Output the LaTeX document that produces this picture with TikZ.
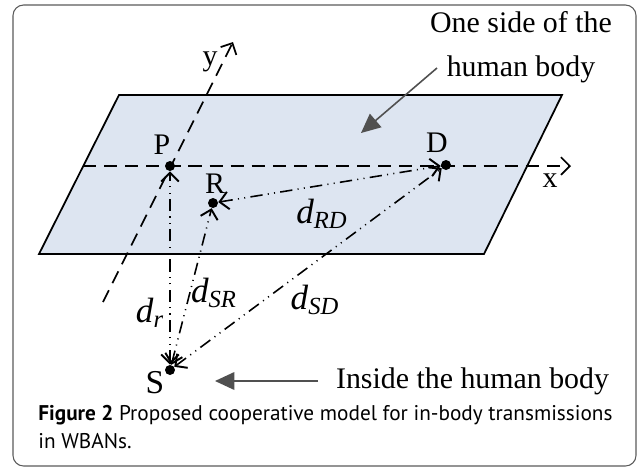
\documentclass[tikz,border=0pt]{standalone}
\usepackage{fontspec}
\setmainfont{Liberation Serif}
\newfontfamily\capfont{PT Sans}
\usetikzlibrary{arrows.meta,positioning}
\definecolor{bodyfill}{RGB}{221,229,241}
\definecolor{framegray}{RGB}{90,90,90}
\definecolor{pointergray}{RGB}{80,80,80}
\begin{document}
\begin{tikzpicture}[x=0.02cm,y=-0.02cm,
  dot/.style={circle,fill=black,inner sep=0pt,minimum size=0.2cm},
  lbl/.style={font=\fontsize{17}{25}\selectfont,inner sep=1pt},
  dlbl/.style={font=\fontsize{20}{20}\selectfont\itshape,inner sep=0pt},
  axis/.style={line width=1pt,dash pattern=on 7.5pt off 4.5pt,
    -{Straight Barb[length=5pt,width=10pt,line width=1pt]}},
  link/.style={line width=0.9pt,
    dash pattern=on 7pt off 3pt on 0.6pt off 3pt on 0.6pt off 3pt,
    {Straight Barb[length=5pt,width=10pt,line width=1.1pt]}-{Straight Barb[length=5pt,width=10pt,line width=1.1pt]}},
  pointer/.style={pointergray,line width=0.9pt,-{Triangle[length=11pt,width=10pt]}}]
  \useasboundingbox (0,0) rectangle (637,468);
  \draw[framegray,line width=0.6pt,rounded corners=6pt] (13,5) rectangle (636,466);
  % body surface
  \draw[line width=1pt,fill=bodyfill] (119,95) -- (562,95) -- (484,254) -- (39,254) -- cycle;
  % axes
  \coordinate (x0) at (83,166);
  \coordinate (x1) at (571,166);
  \coordinate (y0) at (103,302);
  \coordinate (y1) at (233,42);
  \draw[axis] (x0) -- (x1);
  \draw[axis] (y0) -- (y1);
  \node[lbl] (xlab) at (550,181) {x};
  \node[lbl] (ylab) at (210,62) {y};
  % sensor nodes
  \node[dot] (P) at (170,166) {};
  \node[dot] (R) at (213,203) {};
  \node[dot] (D) at (446,165) {};
  \node[dot] (S) at (170,370) {};
  \node[lbl] (Plab) at (162,145) {P};
  \node[lbl] (Rlab) at (215,184) {R};
  \node[lbl] (Dlab) at (437,143) {D};
  \node[lbl,font=\fontsize{19}{20}\selectfont] (Slab) at (155,383) {S};
  % links
  \draw[link] (S) -- (P);
  \draw[link] (S) -- (R);
  \draw[link] (S) -- (D);
  \draw[link] (R) -- (D);
  \node[dlbl] (dRD) at (322,214) {d\textsubscript{RD}};
  \node[dlbl] (dr) at (150,313) {d\textsubscript{r}};
  \node[dlbl] (dSR) at (214,293) {d\textsubscript{SR}};
  \node[dlbl] (dSD) at (315,300) {d\textsubscript{SD}};
  % pointers
  \node[lbl,align=center] (bodytxt) at (521,47) {One side of the\\human body};
  \coordinate (bodyfrom) at (437,68);
  \coordinate (bodytip) at (361,133);
  \draw[pointer] (bodyfrom) -- (bodytip);
  \node[lbl,anchor=base west] (intxt) at (334,388) {Inside the human body};
  \coordinate (infrom) at (318,381);
  \coordinate (intip) at (215,381);
  \draw[pointer] (infrom) -- (intip);
  % caption
  \node[anchor=north west,align=left,inner sep=0pt,
    font=\capfont\fontsize{12.1}{15.9}\selectfont] (caption) at (38,405)
    {\textbf{Figure 2} Proposed cooperative model for in-body transmissions\\in WBANs.};
\end{tikzpicture}
\end{document}
